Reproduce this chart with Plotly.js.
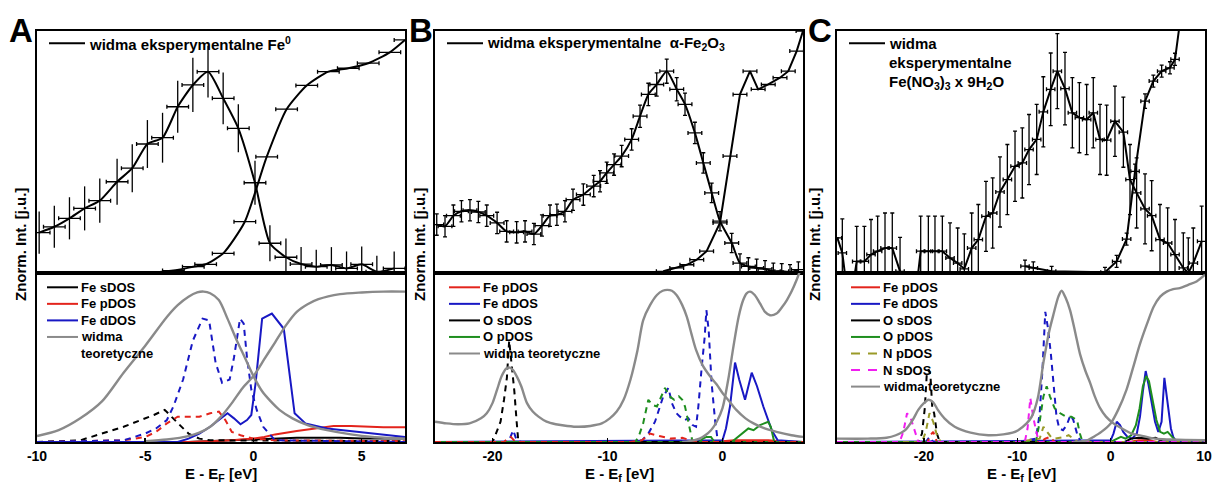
<!DOCTYPE html>
<html>
<head>
<meta charset="utf-8">
<script src="https://cdn.plot.ly/plotly-3.0.1.min.js"></script>
<style>
  html, body { margin: 0; padding: 0; background: #ffffff; }
  #chart { width: 1213px; height: 485px; }
</style>
</head>
<body>
<div id="chart"></div>
<script>
// ---------- Panel A: Fe0 ----------
// experimental emission (XES) and absorption (XAS), normalised intensity
const aXesE = [-9.9, -9.2, -8.5, -7.8, -7.1, -6.3, -5.6, -4.9, -4.2, -3.5, -2.8, -2.1, -1.4, -0.7, 0.07, 0.76, 1.5, 2.2, 2.9, 3.6, 4.3, 5.0, 5.7, 6.5];
const aXesI = [0.167, 0.191, 0.226, 0.267, 0.299, 0.377, 0.433, 0.533, 0.559, 0.687, 0.777, 0.832, 0.722, 0.598, 0.373, 0.123, 0.065, 0.037, 0.026, 0.033, 0.019, 0.036, 0.005, 0.019];
const aXesErr = [0.087, 0.087, 0.087, 0.091, 0.091, 0.095, 0.099, 0.099, 0.103, 0.107, 0.112, 0.107, 0.107, 0.099, 0.091, 0.074, 0.078, 0.07, 0.07, 0.074, 0.07, 0.074, 0.066, 0.07];
const aXasE = [-5.6, -5.09, -3.7, -2.78, -2.21, -1.4, -0.4, 0.61, 1.53, 2.46, 3.46, 4.38, 5.3, 6.3, 7.0];
const aXasI = [0.0, 0.0, 0.01, 0.026, 0.036, 0.081, 0.212, 0.48, 0.677, 0.775, 0.832, 0.846, 0.867, 0.912, 0.963];

// calculated DOS and theoretical spectra
const aGrayXesE = [-10, -9, -8, -7, -6, -5, -4, -3.5, -3, -2.6, -2.3, -2.0, -1.6, -1.2, -0.8, -0.4, 0, 0.4, 0.8, 1.2, 1.8, 2.5, 3.4, 4.5, 5.5, 7];
const aGrayXesI = [0.035, 0.07, 0.14, 0.24, 0.41, 0.57, 0.74, 0.81, 0.86, 0.885, 0.89, 0.88, 0.84, 0.73, 0.61, 0.50, 0.39, 0.30, 0.24, 0.19, 0.14, 0.10, 0.07, 0.045, 0.03, 0.02];
const aGrayXasE = [-5, -4, -3, -2.5, -2, -1.5, -1, -0.5, 0, 0.5, 1, 1.5, 2, 2.5, 3, 4, 5, 6, 7];
const aGrayXasI = [0.005, 0.015, 0.035, 0.055, 0.09, 0.15, 0.23, 0.32, 0.39, 0.49, 0.59, 0.69, 0.77, 0.815, 0.845, 0.875, 0.885, 0.89, 0.89];
const aFeSSolE = [-10, -3, -1, 0, 1, 2, 3, 4, 5, 6, 7];
const aFeSSolI = [0, 0, 0.01, 0.015, 0.02, 0.025, 0.025, 0.025, 0.02, 0.02, 0.02];
const aFePSolE = [-10, -3, -1, 0, 0.5, 1, 2, 3, 3.7, 4.5, 5.2, 6, 7];
const aFePSolI = [0, 0, 0.01, 0.02, 0.03, 0.045, 0.065, 0.085, 0.095, 0.095, 0.09, 0.088, 0.087];
const aFeDSolE = [-10, -3.5, -3, -2.5, -2, -1.6, -1.2, -0.9, -0.6, -0.3, -0.1, 0.1, 0.4, 0.85, 1.4, 1.9, 2.4, 3.4, 4.9, 7];
const aFeDSolI = [0, 0, 0.02, 0.05, 0.09, 0.13, 0.17, 0.14, 0.105, 0.13, 0.16, 0.35, 0.73, 0.76, 0.67, 0.17, 0.11, 0.08, 0.06, 0.03];
const aFeSDashE = [-10, -8, -7, -6, -5.2, -4.6, -4.1, -3.8, -3.4, -3.0, -2.5, -2, 7];
const aFeSDashI = [0, 0.01, 0.05, 0.09, 0.13, 0.16, 0.19, 0.15, 0.10, 0.05, 0.02, 0.01, 0.005];
const aFePDashE = [-10, -6, -5, -4.5, -4, -3.5, -3, -2.5, -2, -1.6, -1.3, -1.0, -0.6, 0, 1, 7];
const aFePDashI = [0, 0.01, 0.03, 0.06, 0.11, 0.15, 0.15, 0.15, 0.17, 0.18, 0.13, 0.06, 0.04, 0.02, 0.01, 0.005];
const aFeDDashE = [-10, -6, -5.5, -5.0, -4.5, -4.0, -3.7, -3.25, -2.8, -2.35, -2.05, -1.75, -1.45, -1.1, -0.9, -0.62, -0.45, -0.3, -0.1, 0.15, 0.45, 1.0, 7];
const aFeDDashI = [0, 0.01, 0.03, 0.05, 0.08, 0.13, 0.21, 0.37, 0.60, 0.73, 0.72, 0.47, 0.35, 0.37, 0.50, 0.73, 0.70, 0.50, 0.31, 0.19, 0.09, 0.01, 0];

// ---------- Panel B: alpha-Fe2O3 ----------
const bXesE = [-24.85, -24.13, -23.4, -22.7, -21.96, -21.23, -20.5, -19.6, -18.77, -17.9, -17.17, -16.4, -15.7, -15.0, -14.4, -13.7, -13.0, -12.1, -11.2, -10.65, -10.07, -9.43, -8.77, -7.9, -7.17, -6.45, -5.72, -4.85, -3.98, -3.26, -2.4, -1.67, -0.94, -0.22, 0.8, 1.52, 2.25, 2.97, 3.7, 4.42, 5.15, 5.87, 6.6];
const bXesI = [0.2, 0.193, 0.237, 0.255, 0.259, 0.252, 0.237, 0.207, 0.172, 0.168, 0.172, 0.161, 0.196, 0.237, 0.241, 0.255, 0.303, 0.324, 0.359, 0.379, 0.414, 0.448, 0.483, 0.552, 0.648, 0.738, 0.779, 0.834, 0.759, 0.697, 0.579, 0.455, 0.331, 0.214, 0.124, 0.041, 0.027, 0.021, 0.017, 0.007, 0.007, 0.003, 0.014];
const bXesErr = [0.044, 0.044, 0.044, 0.044, 0.044, 0.044, 0.044, 0.044, 0.044, 0.044, 0.044, 0.044, 0.044, 0.044, 0.044, 0.044, 0.044, 0.044, 0.044, 0.044, 0.044, 0.044, 0.044, 0.044, 0.046, 0.046, 0.048, 0.05, 0.048, 0.046, 0.044, 0.042, 0.04, 0.04, 0.04, 0.038, 0.036, 0.036, 0.034, 0.034, 0.032, 0.032, 0.032];
const bXasE = [-5.15, -3.98, -3.1, -2.24, -1.38, -0.22, 0.65, 1.52, 2.39, 3.1, 3.98, 5.0, 5.72, 6.45, 7.0];
const bXasI = [0.007, 0.021, 0.034, 0.055, 0.09, 0.207, 0.483, 0.738, 0.834, 0.759, 0.779, 0.807, 0.834, 0.917, 1.0];

const bGrayXesE = [-25, -24, -23, -22, -21, -20.5, -20, -19.6, -19.2, -18.8, -18.5, -18.2, -17.9, -17.5, -17, -16.5, -16, -15.3, -14.5, -13.5, -12.5, -11.5, -10.5, -9.8, -9.2, -8.6, -8.0, -7.4, -6.9, -6.3, -5.7, -5.2, -4.8, -4.4, -4.0, -3.5, -3.1, -2.7, -2.3, -1.7, -1.1, -0.5, 0, 0.6, 1.2, 2.0, 2.7, 3.5, 4.7, 6, 7];
const bGrayXesI = [0.12, 0.11, 0.105, 0.11, 0.14, 0.17, 0.23, 0.31, 0.39, 0.435, 0.44, 0.425, 0.39, 0.33, 0.23, 0.18, 0.15, 0.12, 0.105, 0.095, 0.09, 0.095, 0.11, 0.14, 0.18, 0.25, 0.37, 0.54, 0.72, 0.81, 0.87, 0.895, 0.90, 0.895, 0.87, 0.81, 0.74, 0.64, 0.545, 0.45, 0.39, 0.34, 0.29, 0.24, 0.19, 0.14, 0.11, 0.085, 0.06, 0.04, 0.03];
const bGrayXasE = [-3.5, -2.5, -2, -1.5, -1, -0.5, 0, 0.5, 0.94, 1.4, 1.8, 2.1, 2.4, 2.8, 3.26, 3.7, 4.13, 4.7, 5.2, 5.6, 6.0, 6.45, 7];
const bGrayXasI = [0, 0.01, 0.02, 0.04, 0.07, 0.12, 0.20, 0.37, 0.56, 0.74, 0.84, 0.88, 0.89, 0.87, 0.82, 0.77, 0.75, 0.76, 0.80, 0.84, 0.89, 0.96, 1.06];
const bFePSolE = [-25, -1, 0, 1, 2, 3, 4, 5, 7];
const bFePSolI = [0, 0, 0.005, 0.01, 0.01, 0.01, 0.01, 0.005, 0];
const bFeDSolE = [-25, 0, 0.3, 0.65, 1.09, 1.45, 1.96, 2.54, 3.0, 3.55, 4.28, 4.8, 7];
const bFeDSolI = [0, 0.01, 0.08, 0.21, 0.47, 0.37, 0.25, 0.41, 0.33, 0.21, 0.07, 0.01, 0];
const bOSSolE = [-25, 7];
const bOSSolI = [0, 0];
const bOPSolE = [-25, -2, -1.7, -1.4, -1.0, -0.7, 0.8, 1.35, 1.8, 2.25, 2.7, 3.26, 3.98, 4.2, 4.5, 7];
const bOPSolI = [0, 0, 0.02, 0.03, 0.03, 0.0, 0.0, 0.03, 0.06, 0.08, 0.07, 0.10, 0.12, 0.09, 0.0, 0];
const bFeDDashE = [-25, -18.8, -18.5, -18.2, -17.9, -17.5, -8, -7.0, -6.45, -5.87, -5.15, -4.7, -4.4, -4.0, -3.7, -3.3, -2.97, -2.6, -2.3, -2.1, -1.8, -1.55, -1.4, -1.2, -0.95, -0.65, -0.4, 7];
const bFeDDashI = [0, 0, 0.02, 0.07, 0.01, 0, 0, 0.01, 0.05, 0.12, 0.27, 0.32, 0.23, 0.17, 0.15, 0.13, 0.14, 0.10, 0.09, 0.21, 0.45, 0.62, 0.78, 0.66, 0.35, 0.13, 0.0, 0];
const bOSDashE = [-25, -20.0, -19.7, -19.3, -19.0, -18.75, -18.55, -18.3, -18.1, -17.9, -17.75, 7];
const bOSDashI = [0, 0, 0.05, 0.12, 0.25, 0.38, 0.6, 0.45, 0.3, 0.12, 0.0, 0];
const bOPDashE = [-25, -7.6, -7.3, -6.9, -6.45, -6.1, -5.7, -5.35, -5.0, -4.6, -4.2, -3.8, -3.5, -3.26, -2.9, -2.6, 7];
const bOPDashI = [0, 0, 0.03, 0.11, 0.25, 0.22, 0.21, 0.26, 0.32, 0.27, 0.25, 0.27, 0.25, 0.21, 0.09, 0.0, 0];
const bFePDashE = [-25, -19, -18.7, -18.4, -18, -8, -7, -6.3, -5.5, -4.5, -3.5, -2.8, -2.3, 7];
const bFePDashI = [0, 0, 0.02, 0.03, 0, 0, 0.01, 0.05, 0.035, 0.02, 0.025, 0.01, 0, 0];

// ---------- Panel C: Fe(NO3)3 x 9H2O ----------
const cXesE = [-29.26, -28.73, -27.98, -27.19, -26.37, -25.66, -24.95, -24.16, -23.38, -22.55, -21.77, -21.06, -20.34, -19.52, -18.81, -18.02, -17.2, -16.38, -15.67, -14.88, -14.17, -13.35, -12.63, -11.85, -11.06, -10.24, -9.46, -8.74, -7.92, -7.21, -6.42, -5.71, -4.89, -4.1, -3.35, -2.57, -1.86, -1.14, -0.43, 0.46, 1.36, 2.07, 2.78, 3.68, 4.39, 5.28, 6.1, 6.89, 7.78, 8.31, 8.85, 9.74];
const cXesI = [0.145, 0.083, -0.15, 0.048, 0.048, 0.076, 0.09, 0.103, 0.103, 0.007, -0.15, -0.15, 0.09, 0.09, 0.09, 0.09, 0.062, 0.041, 0.017, 0.103, 0.138, 0.234, 0.248, 0.335, 0.386, 0.441, 0.455, 0.51, 0.552, 0.666, 0.759, 0.834, 0.762, 0.662, 0.642, 0.634, 0.662, 0.552, 0.549, 0.627, 0.582, 0.386, 0.331, 0.265, 0.237, 0.138, 0.124, 0.076, 0.021, 0.0, 0.041, 0.131];
const cXesErr = [0, 0.141, 0, 0.145, 0.145, 0.145, 0.145, 0.145, 0.145, 0.14, 0, 0, 0.145, 0.145, 0.145, 0.145, 0.145, 0.145, 0.145, 0.145, 0.145, 0.145, 0.145, 0.145, 0.145, 0.145, 0.145, 0.145, 0.145, 0.145, 0.15, 0.155, 0.15, 0.145, 0.145, 0.145, 0.145, 0.145, 0.145, 0.145, 0.145, 0.145, 0.145, 0.145, 0.145, 0.145, 0.145, 0.145, 0.145, 0.145, 0.145, 0.145];
const cXasE = [-9.17, -8.28, -6.32, -0.61, 0.64, 1.71, 2.61, 3.68, 4.57, 5.46, 6.35, 6.89, 7.5];
const cXasI = [0.028, 0.021, 0.007, 0.003, 0.048, 0.14, 0.42, 0.71, 0.793, 0.834, 0.848, 0.883, 1.06];
const cXasErr = [0.025, 0.025, 0.02, 0.02, 0.025, 0.025, 0.03, 0.03, 0.025, 0.025, 0.025, 0.025, 0];

const cGrayXesE = [-29.3, -26, -24, -23, -22, -21.2, -20.6, -20, -19.5, -19, -18.5, -17.8, -16.7, -15, -13.1, -11.5, -10.5, -9.9, -9.0, -8.45, -7.8, -7.2, -6.6, -6.1, -5.6, -5.25, -4.8, -4.35, -3.8, -3.28, -2.7, -2.2, -1.7, -1.13, -0.5, 0.3, 1.2, 2.25, 3.5, 4.75, 6.35, 8, 10.1];
const cGrayXesI = [0.02, 0.02, 0.025, 0.04, 0.07, 0.13, 0.19, 0.23, 0.25, 0.235, 0.19, 0.14, 0.09, 0.055, 0.04, 0.045, 0.055, 0.07, 0.11, 0.15, 0.26, 0.47, 0.65, 0.76, 0.86, 0.895, 0.85, 0.78, 0.65, 0.52, 0.42, 0.35, 0.27, 0.20, 0.15, 0.11, 0.08, 0.05, 0.035, 0.02, 0.015, 0.012, 0.01];
const cGrayXasE = [-4, -2.5, -1.85, -1, 0, 0.8, 1.7, 2.4, 3.14, 3.9, 4.6, 5.3, 6.0, 6.7, 7.4, 8.3, 9.2, 10.1];
const cGrayXasI = [0, 0.01, 0.03, 0.06, 0.11, 0.19, 0.31, 0.44, 0.58, 0.70, 0.80, 0.86, 0.89, 0.905, 0.91, 0.93, 0.95, 0.99];
const cFePSolE = [-29.3, 2, 3, 4, 5, 10.1];
const cFePSolI = [0, 0, 0.01, 0.01, 0, 0];
const cFeDSolE = [-29.3, 0, 0.3, 0.65, 1.0, 1.35, 1.8, 2.3, 2.8, 3.14, 3.45, 3.75, 4.05, 4.4, 4.75, 5.1, 5.45, 5.75, 6.0, 6.2, 6.45, 6.7, 7.0, 10.1];
const cFeDSolI = [0, 0.01, 0.05, 0.12, 0.10, 0.06, 0.03, 0.02, 0.05, 0.15, 0.30, 0.42, 0.34, 0.23, 0.12, 0.06, 0.12, 0.38, 0.28, 0.17, 0.08, 0.03, 0.005, 0];
const cOSSolE = [-29.3, 1.5, 2.2, 3, 4, 4.8, 5.5, 10.1];
const cOSSolI = [0, 0, 0.02, 0.025, 0.02, 0.025, 0.005, 0];
const cOPSolE = [-29.3, 0, 0.7, 1.1, 1.6, 2.2, 2.7, 3.1, 3.45, 3.8, 4.1, 4.5, 4.9, 5.3, 5.7, 6.1, 6.6, 7.0, 10.1];
const cOPSolI = [0, 0, 0.02, 0.03, 0.02, 0.04, 0.10, 0.20, 0.33, 0.39, 0.36, 0.25, 0.13, 0.06, 0.05, 0.06, 0.03, 0.005, 0];
const cFeDDashE = [-29.3, -19.8, -19.4, -19, -10, -8.0, -7.6, -7.3, -7.0, -6.7, -6.4, -6.1, -5.8, -5.5, -5.1, -4.7, -4.3, -4.0, -3.6, -3.2, 10.1];
const cFeDDashI = [0, 0, 0.03, 0, 0, 0.02, 0.17, 0.43, 0.77, 0.67, 0.52, 0.35, 0.15, 0.08, 0.07, 0.10, 0.16, 0.13, 0.05, 0.0, 0];
const cFePDashE = [-29.3, -19.6, -19.3, -19.0, -18.6, -7.5, -7.0, -6.5, -6.0, 10.1];
const cFePDashI = [0, 0, 0.04, 0.06, 0, 0, 0.02, 0.03, 0, 0];
const cOSDashE = [-29.3, -20.6, -20.2, -19.9, -19.7, -19.5, -19.3, -19.1, -18.9, -18.6, -18.3, 10.1];
const cOSDashI = [0, 0, 0.05, 0.2, 0.39, 0.43, 0.4, 0.2, 0.17, 0.05, 0, 0];
const cOPDashE = [-29.3, -8, -7.6, -7.2, -6.85, -6.5, -6.0, -5.4, -4.8, -4.2, -3.6, -3.3, -3.0, 10.1];
const cOPDashI = [0, 0, 0.12, 0.27, 0.33, 0.27, 0.2, 0.17, 0.15, 0.15, 0.13, 0.05, 0, 0];
const cNPDashE = [-29.3, -20.2, -19.8, -19.4, -19.0, -18.6, -18.2, -10, -7.6, -7.2, -6.8, -6.4, -6.0, -5.0, -4.5, -4.0, -3.5, 10.1];
const cNPDashI = [0, 0, 0.06, 0.17, 0.12, 0.04, 0, 0, 0.02, 0.09, 0.06, 0.03, 0.02, 0.03, 0.04, 0.02, 0, 0];
const cNSDashE = [-29.3, -22.6, -22.2, -21.8, -21.4, -21, -20.6, -9.2, -8.9, -8.6, -8.3, -8.0, -7.7, 10.1];
const cNSDashI = [0, 0, 0.06, 0.17, 0.14, 0.07, 0, 0, 0.08, 0.26, 0.15, 0.07, 0, 0];

// ---------- axes, ticks, labels ----------
const xRanges = [[-10, 7], [-25, 7], [-29.3, 10.1]];
const tickVals = [[-10, -5, 0, 5], [-20, -10, 0], [-20, -10, 0, 10]];
const tickText = [['-10', '-5', '0', '5'], ['-20', '-10', '0'], ['-20', '-10', '0', '10']];
const xTitles = ['E - E<sub>F</sub> [eV]', 'E - E<sub>f</sub> [eV]', 'E - E<sub>f</sub> [eV]'];
const yTitle = 'Znorm. Int. [j.u.]';
const panelLetters = ['A', 'B', 'C'];
const expLabels = [
  ['widma eksperymentalne Fe<sup>0</sup>'],
  ['widma eksperymentalne\u00a0\u00a0\u03b1-Fe<sub>2</sub>O<sub>3</sub>'],
  ['widma', 'eksperymentalne', 'Fe(NO<sub>3</sub>)<sub>3</sub> x 9H<sub>2</sub>O']
];
const dosLabelsA = ['Fe sDOS', 'Fe pDOS', 'Fe dDOS', 'widma|teoretyczne'];
const dosLabelsB = ['Fe pDOS', 'Fe dDOS', 'O sDOS', 'O pDOS', 'widma teoretyczne'];
const dosLabelsC = ['Fe pDOS', 'Fe dDOS', 'O sDOS', 'O pDOS', 'N pDOS', 'N sDOS', 'widma teoretyczne'];

// ---------- styling ----------
const W = 1213, H = 485;
const FONT = 'Liberation Sans, Arial, Helvetica, sans-serif';
const C_BLACK = '#000000', C_RED = '#e3241c', C_BLUE = '#1818c4', C_GREEN = '#1e8e1e',
      C_OLIVE = '#9a9a28', C_MAG = '#f01ef0', C_GRAY = '#8a8a8a';
const DASH = '6px,5px';
const colsA = [C_BLACK, C_RED, C_BLUE, C_GRAY];
const colsB = [C_RED, C_BLUE, C_BLACK, C_GREEN, C_GRAY];
const colsC = [C_RED, C_BLUE, C_BLACK, C_GREEN, C_OLIVE, C_MAG, C_GRAY];
const dashC = [false, false, false, false, true, true, false];

// plot frames in pixels
const frameX = [[37, 405], [435, 803], [837, 1205]];
const topY = [31, 273], botY = [273, 442];
const px = p => p / W;
const py = p => 1 - p / H;

const traces = [];
function dos(panel, x, y, color, dashed, smooth) {
  traces.push({
    type: 'scatter', mode: 'lines', x: x, y: y,
    xaxis: 'x' + (2 * panel + 2), yaxis: 'y' + (2 * panel + 2),
    line: { color: color, width: smooth ? 2.4 : 2, dash: dashed ? DASH : 'solid',
            shape: smooth ? 'spline' : 'linear', smoothing: 0.8 },
    showlegend: false, hoverinfo: 'skip'
  });
}
function expt(panel, x, y, errY, errX, shape) {
  const t = {
    type: 'scatter', mode: 'lines', x: x, y: y,
    xaxis: 'x' + (2 * panel + 1), yaxis: 'y' + (2 * panel + 1),
    line: { color: C_BLACK, width: 2, shape: shape, smoothing: 0.6 },
    error_x: { type: 'constant', value: errX, visible: true, color: C_BLACK, thickness: 1.3, width: 2 },
    showlegend: false, hoverinfo: 'skip'
  };
  if (errY) t.error_y = { type: 'data', array: errY, visible: true, color: C_BLACK, thickness: 1.3, width: panel === 0 ? 0 : 2 };
  traces.push(t);
}

// experimental spectra
expt(0, aXesE, aXesI, aXesErr, 0.5, 'spline');
expt(0, aXasE, aXasI, null, 0.5, 'spline');
expt(1, bXesE, bXesI, bXesErr, 0.6, 'spline');
expt(1, bXasE, bXasI, null, 0.6, 'linear');
expt(2, cXesE, cXesI, cXesErr, 0.45, 'linear');
expt(2, cXasE, cXasI, cXasErr, 0.45, 'linear');

// panel A DOS (solid: unoccupied, dashed: occupied)
dos(0, aFeSSolE, aFeSSolI, C_BLACK, false);
dos(0, aFePSolE, aFePSolI, C_RED, false);
dos(0, aFeDSolE, aFeDSolI, C_BLUE, false);
dos(0, aFeSDashE, aFeSDashI, C_BLACK, true);
dos(0, aFePDashE, aFePDashI, C_RED, true);
dos(0, aFeDDashE, aFeDDashI, C_BLUE, true);
dos(0, aGrayXesE, aGrayXesI, C_GRAY, false, true);
dos(0, aGrayXasE, aGrayXasI, C_GRAY, false, true);

// panel B DOS
dos(1, bFePSolE, bFePSolI, C_RED, false);
dos(1, bFeDSolE, bFeDSolI, C_BLUE, false);
dos(1, bOSSolE, bOSSolI, C_BLACK, false);
dos(1, bOPSolE, bOPSolI, C_GREEN, false);
dos(1, bFeDDashE, bFeDDashI, C_BLUE, true);
dos(1, bOSDashE, bOSDashI, C_BLACK, true);
dos(1, bOPDashE, bOPDashI, C_GREEN, true);
dos(1, bFePDashE, bFePDashI, C_RED, true);
dos(1, bGrayXesE, bGrayXesI, C_GRAY, false, true);
dos(1, bGrayXasE, bGrayXasI, C_GRAY, false, true);

// panel C DOS
dos(2, cFePSolE, cFePSolI, C_RED, false);
dos(2, cFeDSolE, cFeDSolI, C_BLUE, false);
dos(2, cOSSolE, cOSSolI, C_BLACK, false);
dos(2, cOPSolE, cOPSolI, C_GREEN, false);
dos(2, cFeDDashE, cFeDDashI, C_BLUE, true);
dos(2, cFePDashE, cFePDashI, C_RED, true);
dos(2, cOSDashE, cOSDashI, C_BLACK, true);
dos(2, cOPDashE, cOPDashI, C_GREEN, true);
dos(2, cNPDashE, cNPDashI, C_OLIVE, true);
dos(2, cNSDashE, cNSDashI, C_MAG, true);
dos(2, cGrayXesE, cGrayXesI, C_GRAY, false, true);
dos(2, cGrayXasE, cGrayXasI, C_GRAY, false, true);

// ---------- layout ----------
const layout = {
  width: W, height: H,
  margin: { l: 0, r: 0, t: 0, b: 0, pad: 0 },
  paper_bgcolor: '#ffffff', plot_bgcolor: '#ffffff',
  font: { family: FONT, size: 13, color: '#000000' },
  showlegend: false,
  annotations: [], shapes: []
};
const frameAxis = { showline: true, mirror: true, linewidth: 2, linecolor: '#000000',
                    showgrid: false, zeroline: false, fixedrange: true };

for (let p = 0; p < 3; p++) {
  const xd = [px(frameX[p][0]), px(frameX[p][1])];
  const t = 2 * p + 1, b = 2 * p + 2;
  layout['xaxis' + t] = Object.assign({}, frameAxis, {
    domain: xd, range: xRanges[p], anchor: 'y' + t, ticks: '', showticklabels: false
  });
  layout['yaxis' + t] = Object.assign({}, frameAxis, {
    domain: [py(topY[1]), py(topY[0])], range: [0, 1], anchor: 'x' + t, ticks: '', showticklabels: false
  });
  layout['xaxis' + b] = Object.assign({}, frameAxis, {
    domain: xd, range: xRanges[p], anchor: 'y' + b,
    tickmode: 'array', tickvals: tickVals[p], ticktext: tickText[p],
    ticks: 'inside', ticklen: 4, tickwidth: 1.5, tickcolor: '#000000',
    tickfont: { family: FONT, size: 14, weight: 'bold', color: '#000000' }
  });
  layout['yaxis' + b] = Object.assign({}, frameAxis, {
    domain: [py(botY[1]), py(botY[0])], range: [0, 1], anchor: 'x' + b, ticks: '', showticklabels: false
  });

  // x title under the energy axis, kept inside the page
  layout.annotations.push({
    xref: 'paper', yref: 'paper', x: px((frameX[p][0] + frameX[p][1]) / 2), y: py(484.5),
    xanchor: 'center', yanchor: 'bottom', showarrow: false, text: xTitles[p], borderpad: 0,
    font: { family: FONT, size: 15, weight: 'bold', color: '#000000' }
  });
  // panel letter
  layout.annotations.push({
    xref: 'paper', yref: 'paper', x: px([21, 421, 820][p]), y: py(30),
    xanchor: 'center', yanchor: 'middle', showarrow: false, text: panelLetters[p],
    font: { family: FONT, size: 33, weight: 'bold', color: '#000000' }
  });
  // y title spanning both rows
  layout.annotations.push({
    xref: 'paper', yref: 'paper', x: px([20, 419, 814][p]), y: py(245),
    xanchor: 'center', yanchor: 'middle', showarrow: false, text: yTitle, textangle: -90,
    font: { family: FONT, size: 15, weight: 'bold', color: '#000000' }
  });

  // experimental legend key
  const l0 = frameX[p][0];
  layout.shapes.push({ type: 'line', xref: 'paper', yref: 'paper',
    x0: px(l0 + 12), x1: px(l0 + 48), y0: py(43.3), y1: py(43.3),
    line: { color: C_BLACK, width: 2 } });
  expLabels[p].forEach((txt, i) => {
    layout.annotations.push({
      xref: 'paper', yref: 'paper', x: px(l0 + 50), y: py(43.3 + i * 19.5),
      xanchor: 'left', yanchor: 'middle', showarrow: false, text: txt,
      font: { family: FONT, size: 15, weight: 'bold', color: '#000000' }
    });
  });
}

// DOS legends
function dosLegend(p, labels, cols, dashes, off) {
  const l0 = frameX[p][0];
  let row = 0;
  labels.forEach((lab, i) => {
    const yy = 287.3 + row * 16.55;
    layout.shapes.push({ type: 'line', xref: 'paper', yref: 'paper',
      x0: px(l0 + off[0]), x1: px(l0 + off[1]), y0: py(yy), y1: py(yy),
      line: { color: cols[i], width: 2, dash: dashes && dashes[i] ? '9px,8px' : 'solid' } });
    lab.split('|').forEach((part, j) => {
      layout.annotations.push({
        xref: 'paper', yref: 'paper', x: px(l0 + off[2]), y: py(yy + j * 16.55),
        xanchor: 'left', yanchor: 'middle', showarrow: false, text: part,
        font: { family: FONT, size: 13, weight: 'bold', color: '#000000' }
      });
      if (j > 0) row++;
    });
    row++;
  });
}
dosLegend(0, dosLabelsA, colsA, null, [10, 41, 42]);
dosLegend(1, dosLabelsB, colsB, null, [14, 45, 46]);
dosLegend(2, dosLabelsC, colsC, dashC, [14, 43, 44]);

Plotly.newPlot('chart', traces, layout, { staticPlot: true, displayModeBar: false });
</script>
</body>
</html>
